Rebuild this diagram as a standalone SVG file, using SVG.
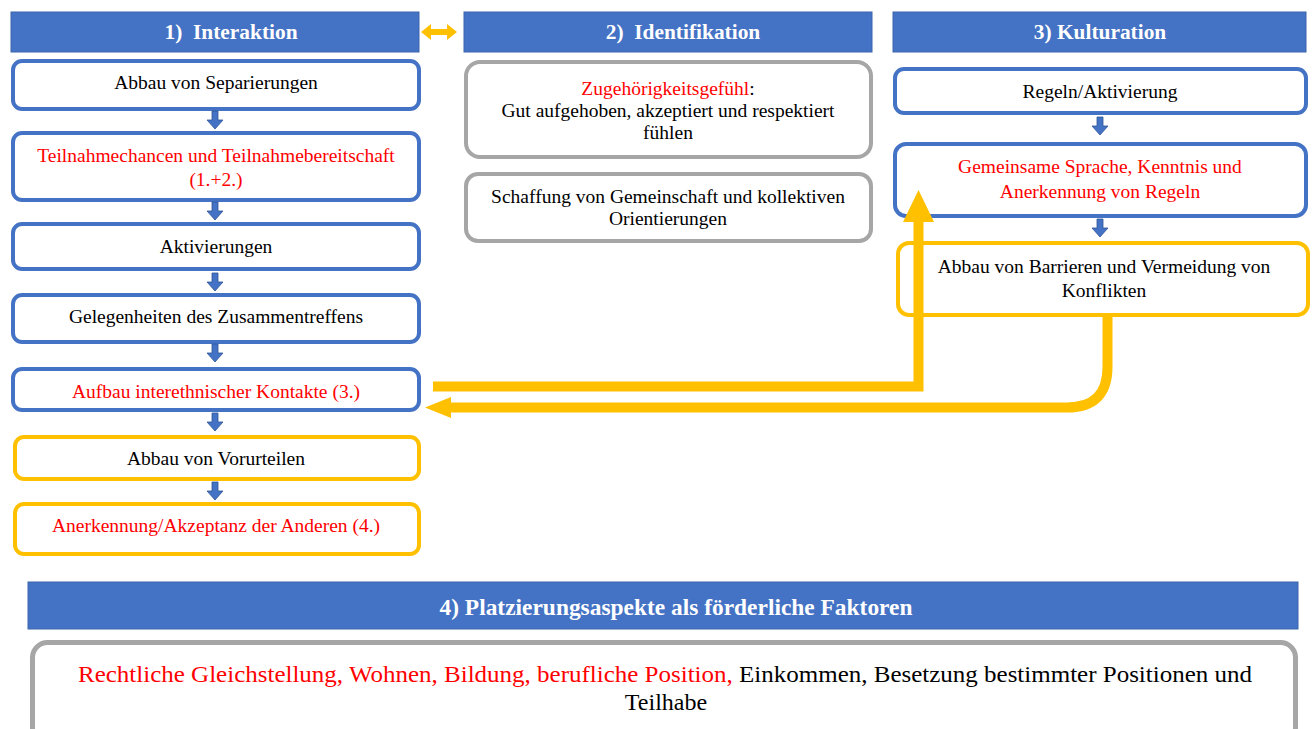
<svg xmlns="http://www.w3.org/2000/svg" width="1312" height="729" viewBox="0 0 1312 729" font-family="Liberation Serif, Times New Roman, serif">
<style>
.hdr{fill:#4472C4;stroke:#3B64AD;stroke-width:1}
.ht{font-weight:bold;font-size:21.4px;fill:#fff;text-anchor:middle;white-space:pre}
.bb{fill:#fff;stroke:#4472C4;stroke-width:4}
.ob{fill:#fff;stroke:#FFC000;stroke-width:4}
.gb{fill:#fff;stroke:#A6A6A6;stroke-width:4}
.t{font-size:19.5px;fill:#000;text-anchor:middle}
.tb{font-size:24px;fill:#000;text-anchor:middle}
.r{fill:#FF0000}
.da{fill:#4472C4;stroke:#2F5597;stroke-width:0.8}
.ya{fill:none;stroke:#FFC000;stroke-width:10}
</style>
<defs>
<path id="dn" class="da" d="M-3,0 h6 v9 h5 l-8,9 l-8,-9 h5 z"/>
</defs>
<rect width="1312" height="729" fill="#fff"/>

<g id="h1"><rect class="hdr" x="11" y="12" width="408" height="40"/><text class="ht" x="231" y="39" xml:space="preserve">1)  Interaktion</text></g>
<g id="h2"><rect class="hdr" x="464" y="12" width="408" height="40"/><text class="ht" x="683" y="39" xml:space="preserve">2)  Identifikation</text></g>
<g id="h3"><rect class="hdr" x="893" y="12" width="413" height="40"/><text class="ht" x="1100" y="39">3) Kulturation</text></g>

<g id="n1"><rect class="bb" x="13" y="61" width="406" height="48" rx="9"/><text class="t" x="216" y="89">Abbau von Separierungen</text></g>
<g id="n2"><rect class="bb" x="13" y="133" width="406" height="67" rx="9"/><text class="t r" x="216" y="162">Teilnahmechancen und Teilnahmebereitschaft</text><text class="t r" x="216" y="186">(1.+2.)</text></g>
<g id="n3"><rect class="bb" x="13" y="224" width="406" height="45" rx="9"/><text class="t" x="216" y="253">Aktivierungen</text></g>
<g id="n4"><rect class="bb" x="13" y="295" width="406" height="47" rx="9"/><text class="t" x="216" y="323">Gelegenheiten des Zusammentreffens</text></g>
<g id="n5"><rect class="bb" x="13" y="369" width="406" height="41" rx="9"/><text class="t r" x="216" y="398">Aufbau interethnischer Kontakte (3.)</text></g>
<g id="n6"><rect class="ob" x="15" y="437" width="404" height="42" rx="9"/><text class="t" x="216" y="465">Abbau von Vorurteilen</text></g>
<g id="n7"><rect class="ob" x="15" y="504" width="404" height="50" rx="9"/><text class="t r" x="216" y="532">Anerkennung/Akzeptanz der Anderen (4.)</text></g>

<g id="m1"><rect class="gb" x="466" y="62" width="405" height="95" rx="14"/><text class="t" x="668" y="95"><tspan class="r">Zugehörigkeitsgefühl</tspan>:</text><text class="t" x="668" y="117">Gut aufgehoben, akzeptiert und respektiert</text><text class="t" x="668" y="139">fühlen</text></g>
<g id="m2"><rect class="gb" x="466" y="174" width="405" height="67" rx="12"/><text class="t" x="668" y="203">Schaffung von Gemeinschaft und kollektiven</text><text class="t" x="668" y="225">Orientierungen</text></g>

<g id="r1"><rect class="bb" x="895" y="69" width="411" height="44" rx="9"/><text class="t" x="1100" y="98">Regeln/Aktivierung</text></g>
<g id="r2"><rect class="bb" x="895" y="144" width="411" height="72" rx="11"/><text class="t r" x="1100" y="173">Gemeinsame Sprache, Kenntnis und</text><text class="t r" x="1100" y="198">Anerkennung von Regeln</text></g>
<g id="r3"><rect class="ob" x="898" y="243" width="410" height="72" rx="11"/><text class="t" x="1104" y="273">Abbau von Barrieren und Vermeidung von</text><text class="t" x="1104" y="297">Konflikten</text></g>

<g id="bottom-header"><rect class="hdr" x="28" y="582" width="1270" height="47"/><text class="ht" x="676" y="615" style="font-size:23px" textLength="473" lengthAdjust="spacingAndGlyphs">4) Platzierungsaspekte als förderliche Faktoren</text></g>
<g id="bottom-box"><rect x="32.5" y="642.5" width="1263" height="100" rx="15" fill="#fff" stroke="#A6A6A6" stroke-width="5"/><text class="tb" x="665" y="682" textLength="1174" lengthAdjust="spacingAndGlyphs"><tspan class="r">Rechtliche Gleichstellung, Wohnen, Bildung, berufliche Position,</tspan> Einkommen, Besetzung bestimmter Positionen und</text><text class="tb" x="666" y="710">Teilhabe</text></g>

<g id="connectors">
<use href="#dn" x="215" y="111"/>
<use href="#dn" x="215" y="202"/>
<use href="#dn" x="215" y="273"/>
<use href="#dn" x="215" y="344"/>
<use href="#dn" x="215" y="413"/>
<use href="#dn" x="215" y="482"/>
<use href="#dn" x="1100" y="117"/>
<use href="#dn" x="1100" y="219"/>
<path d="M421,32 l10,-8 v5 h16 v-5 l10,8 l-10,8 v-5 h-16 v5 z" fill="#FFC000"/>
<path class="ya" d="M433,386.5 H918.5 V218" stroke-linejoin="miter"/>
<path d="M903,222 L918.5,190 L934,222 z" fill="#FFC000"/>
<path class="ya" d="M1107.5,317 V367 Q1107.5,407.5 1067,407.5 H448"/>
<path d="M451,397 L425,407.5 L451,418 z" fill="#FFC000"/>
</g>
</svg>
